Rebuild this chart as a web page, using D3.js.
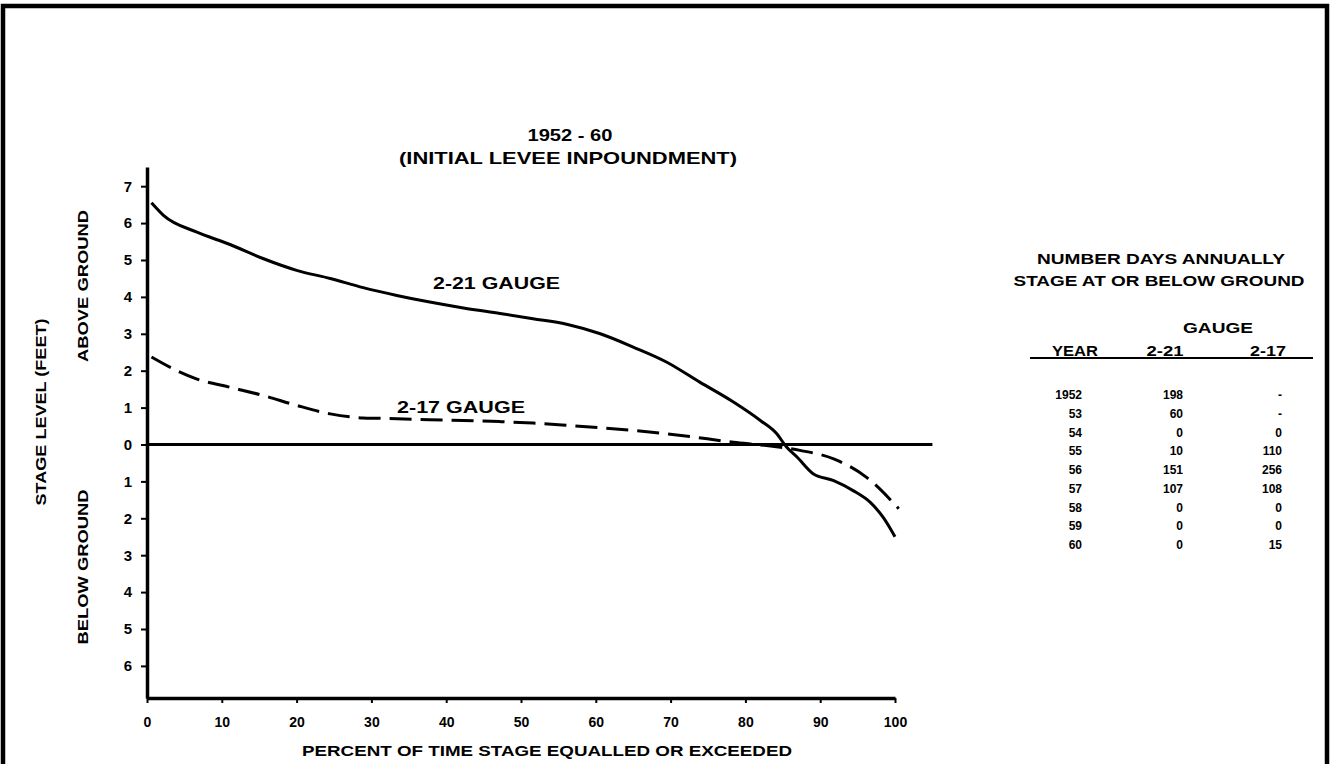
<!doctype html>
<html>
<head>
    <meta charset="UTF-8">
    <title>stage duration</title>
    <script src="https://d3js.org/d3.v7.min.js"></script>
    <style>
        body { margin: 0; background: #fff; }
        svg text { font-family: "Liberation Sans", Arial, sans-serif; font-weight: bold; fill: #000; }
    </style>
</head>
<body>
<svg width="1330" height="764"></svg>
<script>
    // percent of time / stage (feet, negative = below ground)
    var pct221 = [0.6, 2.2, 6.6, 11.1, 15.5, 20, 24.5, 28.9, 33.4, 37.8, 42.3, 47.2, 51.6, 56.1, 60.6, 65.0, 69.5, 73.9, 78.4, 82.0, 84.2, 85.5, 86.9, 89.1, 91.8, 94.4, 96.7, 98.4, 100];
    var stage221 = [6.55, 6.21, 5.76, 5.42, 5.04, 4.72, 4.50, 4.25, 4.04, 3.86, 3.70, 3.55, 3.41, 3.26, 3.00, 2.64, 2.23, 1.69, 1.15, 0.65, 0.29, -0.07, -0.34, -0.80, -0.98, -1.25, -1.57, -1.97, -2.5];
    var pct217 = [0.6, 3.5, 6.6, 11.1, 15.5, 20, 24.5, 28.9, 33.4, 37.8, 42.3, 47.2, 51.6, 56.1, 65.0, 71.7, 78.4, 82.8, 87.3, 91.8, 96.2, 100.5];
    var stage217 = [2.37, 2.05, 1.78, 1.55, 1.33, 1.06, 0.83, 0.72, 0.70, 0.67, 0.65, 0.62, 0.58, 0.52, 0.38, 0.24, 0.06, -0.03, -0.16, -0.39, -0.89, -1.74];

    var xTicks = [0, 10, 20, 30, 40, 50, 60, 70, 80, 90, 100];
    var yTicks = [-6, -5, -4, -3, -2, -1, 0, 1, 2, 3, 4, 5, 6, 7];

    // table
    var years = ["1952", "53", "54", "55", "56", "57", "58", "59", "60"];
    var days221 = ["198", "60", "0", "10", "151", "107", "0", "0", "0"];
    var days217 = ["-", "-", "0", "110", "256", "108", "0", "0", "15"];

    var svg = d3.select("svg");

    // frame
    svg.append("path")
        .attr("d", "M3,770V6H1327V770")
        .attr("fill", "none")
        .attr("stroke", "#000")
        .attr("stroke-width", 4.5);

    var x = d3.scaleLinear().domain([0, 100]).range([147, 895]);
    var y = d3.scaleLinear().domain([-6.87, 7.52]).range([698, 167]);

    // y axis
    var yAxis = svg.append("g")
        .attr("transform", "translate(" + x(0) + ",0)")
        .call(d3.axisLeft(y).tickValues(yTicks).tickSize(6).tickSizeOuter(0)
            .tickFormat(function(d) { return Math.abs(d); }));
    yAxis.select(".domain").attr("stroke-width", 3.5);
    yAxis.selectAll(".tick line").attr("stroke-width", 2);
    yAxis.selectAll(".tick text")
        .attr("x", -19)
        .attr("text-anchor", "middle")
        .style("font-size", "15px");

    // x axis
    var xAxis = svg.append("g")
        .attr("transform", "translate(0," + y(-6.87) + ")")
        .call(d3.axisBottom(x).tickValues(xTicks).tickSize(5).tickSizeOuter(0));
    xAxis.select(".domain").attr("stroke-width", 3.5);
    xAxis.selectAll(".tick line").attr("stroke-width", 2);
    xAxis.selectAll(".tick text")
        .attr("y", 24)
        .attr("dy", "0.35em")
        .style("font-size", "14px");

    // ground line
    svg.append("line")
        .attr("x1", x(0)).attr("x2", x(105))
        .attr("y1", y(0)).attr("y2", y(0))
        .attr("stroke", "#000")
        .attr("stroke-width", 3);

    var line = d3.line()
        .x(function(d) { return x(d[0]); })
        .y(function(d) { return y(d[1]); })
        .curve(d3.curveMonotoneX);

    svg.append("path")
        .datum(d3.zip(pct221, stage221))
        .attr("d", line)
        .attr("fill", "none")
        .attr("stroke", "#000")
        .attr("stroke-width", 3);

    svg.append("path")
        .datum(d3.zip(pct217, stage217))
        .attr("d", line)
        .attr("fill", "none")
        .attr("stroke", "#000")
        .attr("stroke-width", 3)
        .attr("stroke-dasharray", "22,9");

    // wide bold lettering: stretch glyphs to the measured width
    function label(t, px, py, size, w, rot, anchor) {
        var el = svg.append("text")
            .attr("x", px).attr("y", py)
            .attr("text-anchor", anchor || "middle")
            .attr("dominant-baseline", "central")
            .style("font-size", size + "px")
            .text(t);
        if (w) el.attr("textLength", w).attr("lengthAdjust", "spacingAndGlyphs");
        if (rot) el.attr("transform", "rotate(-90," + px + "," + py + ")");
        return el;
    }

    // titles
    label("1952 - 60", 570, 135, 17, 85);
    label("(INITIAL LEVEE INPOUNDMENT)", 568, 158, 17, 338);
    label("PERCENT OF TIME STAGE EQUALLED OR EXCEEDED", 547, 750, 15, 490);
    label("STAGE LEVEL (FEET)", 40, 412, 15, 187, true);
    label("ABOVE GROUND", 82, 286, 15, 152, true);
    label("BELOW GROUND", 82, 567, 15, 155, true);

    label("2-21 GAUGE", 433, 283, 17, 127, false, "start");
    label("2-17 GAUGE", 397, 407, 17, 128, false, "start");

    // table
    label("NUMBER DAYS ANNUALLY", 1161, 258, 15, 248);
    label("STAGE AT OR BELOW GROUND", 1159, 280, 15, 291);
    label("GAUGE", 1218, 327, 15, 70);
    label("YEAR", 1075, 350, 15, 46);
    label("2-21", 1165, 350, 15, 37);
    label("2-17", 1268, 350, 15, 36);

    svg.append("line")
        .attr("x1", 1030).attr("x2", 1313)
        .attr("y1", 358).attr("y2", 358)
        .attr("stroke", "#000")
        .attr("stroke-width", 2);

    var rowY = d3.scalePoint().domain(years).range([395, 545]);

    years.forEach(function(yr, i) {
        label(yr, 1082, rowY(yr), 12, null, false, "end");
        label(days221[i], 1183, rowY(yr), 12, null, false, "end");
        label(days217[i], 1282, rowY(yr), 12, null, false, "end");
    });
</script>
</body>
</html>
